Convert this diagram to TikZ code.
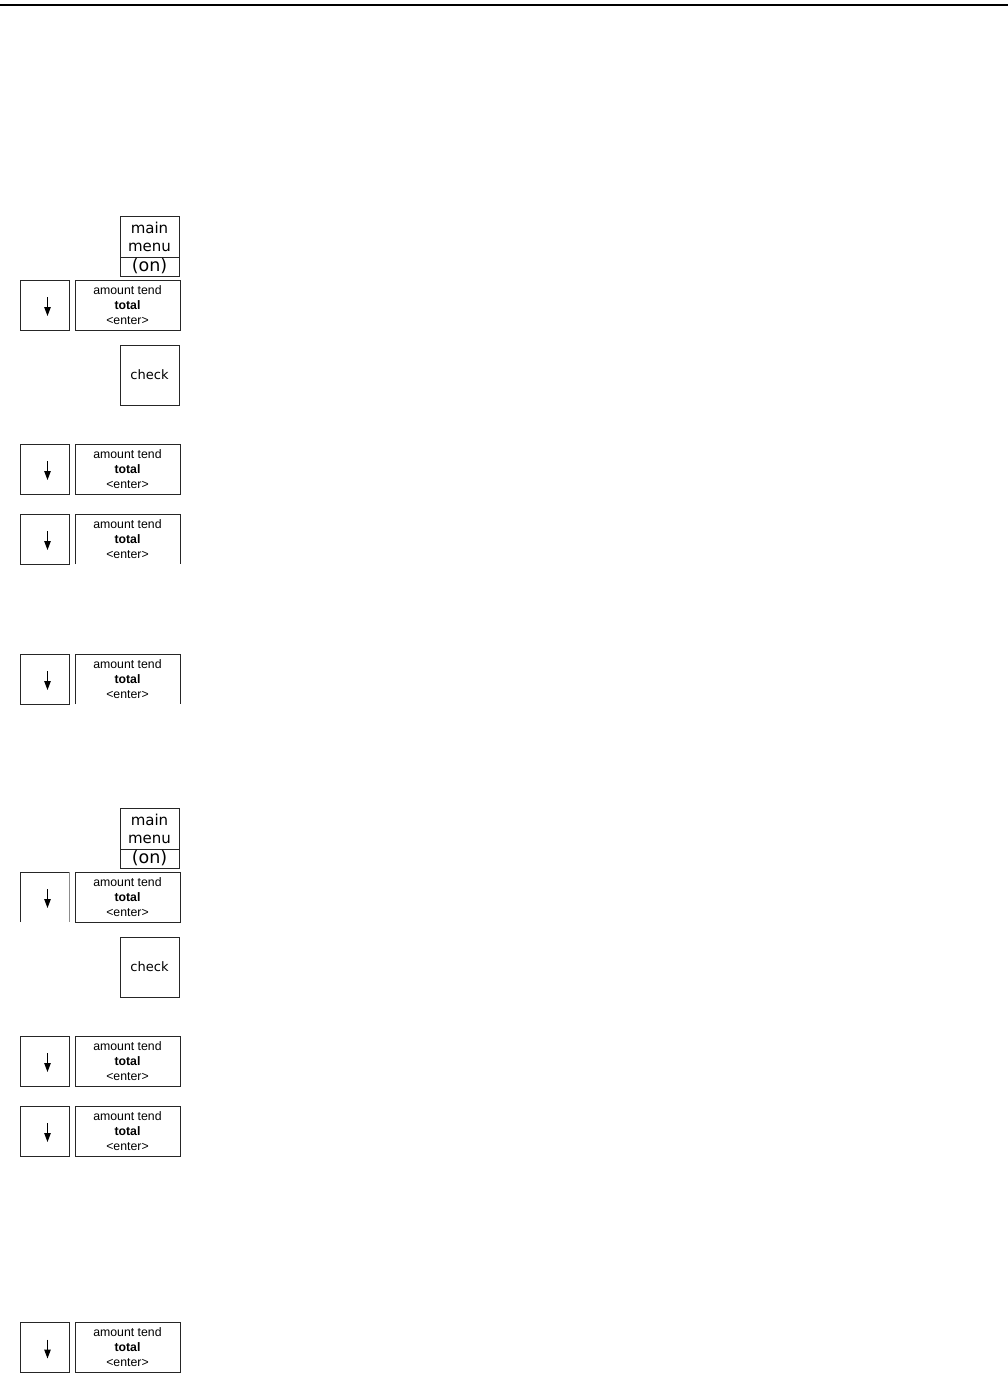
\documentclass[tikz,border=0pt]{standalone}
\usepackage{fontspec}
\setmainfont{Liberation Sans}
\newfontfamily\verd{DejaVu Sans}
\usetikzlibrary{arrows.meta}
\tikzset{
  x=1pt, y=-1pt,
  edge/.style={line width=0.9pt, draw=black!85},
  keybox/.style={anchor=north west, minimum width=49pt, minimum height=50pt, inner sep=0pt, outer sep=0pt},
  amtbox/.style={anchor=north west, minimum width=105pt, minimum height=50pt, inner sep=0pt, outer sep=0pt, align=center, font=\fontsize{12.3}{15}\selectfont},
  menubox/.style={anchor=north west, minimum width=59pt, minimum height=41pt, inner sep=0pt, outer sep=0pt, align=center, font=\verd\fontsize{15}{18}\selectfont},
  onbox/.style={anchor=north west, minimum width=59pt, minimum height=19pt, inner sep=0pt, outer sep=0pt, font=\verd\fontsize{17.5}{19}\selectfont},
  checkbox/.style={anchor=north west, minimum width=59pt, minimum height=60pt, inner sep=0pt, outer sep=0pt, font=\verd\fontsize{13}{15}\selectfont},
  downarrow/.style={line width=1.1pt, -{Triangle[length=9pt,width=6.5pt]}},
}
\newcommand{\amttext}{amount tend\\\textbf{total}\\<enter>}
\newcommand{\keyarrow}[1]{\draw[downarrow] ([xshift=3,yshift=8]#1.center) -- ([xshift=3,yshift=-11]#1.center);}
\begin{document}
\begin{tikzpicture}
\useasboundingbox (0,0) rectangle (1008,1373);
\coordinate (tl) at (0,5);
\coordinate (tr) at (1008,5);
\draw[line width=1.4pt] (tl) -- (tr);

% ---------- first block ----------
\node[menubox, edge, draw] (m1) at (120,216) {main\\menu};
\node[onbox, edge, draw] (o1) at (120,257) {(on)};

\node[keybox, edge, draw] (k1) at (20,280) {};
\node[amtbox, edge, draw] (t1) at (75,280) {\amttext};
\keyarrow{k1}

\node[checkbox, edge, draw] (c1) at (120,345) {check};

\node[keybox, edge, draw] (k2) at (20,444) {};
\node[amtbox, edge, draw] (t2) at (75,444) {\amttext};
\keyarrow{k2}

\node[keybox, edge, draw] (k3) at (20,514) {};
\node[amtbox] (t3) at (75,514) {\amttext};
\draw[edge] (t3.south west) -- (t3.north west) -- (t3.north east) -- (t3.south east);
\keyarrow{k3}

\node[keybox, edge, draw] (k4) at (20,654) {};
\node[amtbox] (t4) at (75,654) {\amttext};
\draw[edge] (t4.south west) -- (t4.north west) -- (t4.north east) -- (t4.south east);
\keyarrow{k4}

% ---------- second block ----------
\node[menubox, edge, draw] (m2) at (120,808) {main\\menu};
\node[onbox, edge, draw] (o2) at (120,849) {(on)};

\node[keybox] (k5) at (20,872) {};
\draw[edge] (k5.south west) -- (k5.north west) -- (k5.north east);
\draw[line width=0.6pt, draw=black!45] (k5.north east) -- (k5.south east);
\node[amtbox, edge, draw] (t5) at (75,872) {\amttext};
\keyarrow{k5}

\node[checkbox, edge, draw] (c2) at (120,937) {check};

\node[keybox, edge, draw] (k6) at (20,1036) {};
\node[amtbox, edge, draw] (t6) at (75,1036) {\amttext};
\keyarrow{k6}

\node[keybox, edge, draw] (k7) at (20,1106) {};
\node[amtbox, edge, draw] (t7) at (75,1106) {\amttext};
\keyarrow{k7}

\node[keybox, edge, draw] (k8) at (20,1322.5) {};
\node[amtbox, edge, draw] (t8) at (75,1322.5) {\amttext};
\keyarrow{k8}
\end{tikzpicture}
\end{document}
